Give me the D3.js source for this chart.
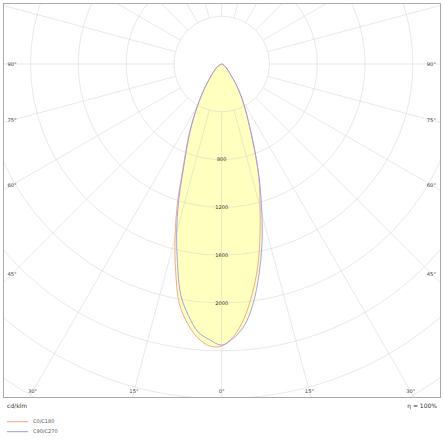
<!DOCTYPE html>
<html>
<head>
<meta charset="utf-8">
<script src="https://cdn.jsdelivr.net/npm/d3@7"></script>
<style>
  body { margin: 0; background: #fff; }
  svg { display: block; }
  text { font-family: "DejaVu Sans", Verdana, sans-serif; }
</style>
</head>
<body>
<div id="chart"></div>
<script>
// gamma angles (deg from nadir) and intensities in cd/klm
const gammas = [0, 2.5, 5, 7.5, 10, 12.5, 15, 17.5, 20, 25, 30, 35, 40, 45, 50, 60, 70, 80, 90];
const c180 = [2360, 2362, 2300, 2190, 2040, 1780, 1510, 1240, 963, 642, 410, 254, 155, 105, 75, 35, 12, 4, 0];
const c0   = [2360, 2282, 2140, 1945, 1730, 1480, 1240, 1047, 840, 525, 345, 214, 115, 75, 50, 25, 10, 3, 0];
const c270 = [2352, 2310, 2252, 2125, 1967, 1710, 1457, 1200, 940, 630, 405, 252, 155, 105, 75, 35, 12, 4, 0];
const c90  = [2352, 2295, 2195, 2020, 1795, 1555, 1300, 1065, 850, 530, 348, 215, 115, 75, 50, 25, 10, 3, 0];

const ringValues = [400, 800, 1200, 1600, 2000, 2400, 2800, 3200, 3600];
const ringLabels = [800, 1200, 1600, 2000];
const angleTicks = [0, 15, 30, 45, 60, 75, 90];
const legendNames = ["C0/C180", "C90/C270"];
const legendColors = ["#f3a08c", "#9898ec"];

const width = 444, height = 440;
const cx = 221.7, cy = 64;
const rad = d => d * Math.PI / 180;
const r = d3.scaleLinear().domain([0, 2000]).range([0, 239]);

const svg = d3.select("#chart").append("svg")
    .attr("width", width).attr("height", height);

svg.append("defs").append("clipPath").attr("id", "clip")
  .append("rect").attr("x", 3.5).attr("y", 3.5).attr("width", 437).attr("height", 394);

const plot = svg.append("g").attr("clip-path", "url(#clip)");
const g = plot.append("g").attr("transform", `translate(${cx},${cy})`);

// closed outline: left half from 90 down to 0, then right half back up
function outline(left, right) {
  let pts = [];
  for (let i = gammas.length - 1; i >= 0; i--) pts.push([Math.PI + rad(gammas[i]), r(left[i])]);
  for (let i = 1; i < gammas.length - 1; i++) pts.push([Math.PI - rad(gammas[i]), r(right[i])]);
  return pts;
}
const line = d3.lineRadial().curve(d3.curveCatmullRomClosed.alpha(0.5));
const shapes = [outline(c180, c0), outline(c270, c90)];

g.selectAll("path.fill").data(shapes).join("path")
    .attr("class", "fill")
    .attr("d", line)
    .attr("fill", "#ffffc0")
    .attr("stroke", "none");

// grid
g.selectAll("circle").data(ringValues).join("circle")
    .attr("r", d => r(d))
    .attr("fill", "none")
    .attr("stroke", "#c8c8c8")
    .attr("stroke-opacity", 0.5)
    .attr("stroke-width", 0.8);

g.selectAll("line.ray").data(d3.range(0, 360, 15)).join("line")
    .attr("class", "ray")
    .attr("x1", d => r(400) * Math.sin(rad(d)))
    .attr("y1", d => r(400) * Math.cos(rad(d)))
    .attr("x2", d => r(4000) * Math.sin(rad(d)))
    .attr("y2", d => r(4000) * Math.cos(rad(d)))
    .attr("stroke", "#c8c8c8")
    .attr("stroke-opacity", 0.5)
    .attr("stroke-width", 0.8);

g.selectAll("path.curve").data(shapes).join("path")
    .attr("class", "curve")
    .attr("d", line)
    .attr("fill", "none")
    .attr("stroke", (d, i) => legendColors[i])
    .attr("stroke-width", 0.9);

g.selectAll("text.ring").data(ringLabels).join("text")
    .attr("class", "ring")
    .attr("x", 0)
    .attr("y", d => r(d))
    .attr("dy", "0.35em")
    .attr("text-anchor", "middle")
    .attr("font-size", 5)
    .attr("fill", "#333")
    .text(d => d);

// angle labels where the rays meet an inset box
let angleLabels = [];
angleTicks.forEach(t => {
  [-1, 1].forEach(side => {
    if (t === 0 && side === 1) return;
    let dx = side * Math.sin(rad(t)), dy = Math.cos(rad(t));
    let sx = dx === 0 ? Infinity : (side < 0 ? cx - 12 : 431.4 - cx) / Math.abs(dx);
    let sy = dy < 1e-9 ? Infinity : (391.5 - cy) / dy;
    let s = Math.min(sx, sy);
    angleLabels.push({ t: t, x: cx + s * dx, y: cy + s * dy });
  });
});

svg.selectAll("text.angle").data(angleLabels).join("text")
    .attr("class", "angle")
    .attr("x", d => d.x)
    .attr("y", d => d.y)
    .attr("dy", "0.35em")
    .attr("text-anchor", "middle")
    .attr("font-size", 5.2)
    .attr("fill", "#444")
    .text(d => d.t + "°");

// frame
svg.append("rect")
    .attr("x", 3.5).attr("y", 3.5).attr("width", 437).attr("height", 394)
    .attr("fill", "none").attr("stroke", "#aaa").attr("stroke-width", 1);

svg.append("text").attr("x", 7).attr("y", 408)
    .attr("font-size", 6).attr("fill", "#333").text("cd/klm");
svg.append("text").attr("x", 437).attr("y", 408).attr("text-anchor", "end")
    .attr("font-size", 6).attr("fill", "#333").text("η = 100%");

const legend = svg.selectAll("g.legend").data(legendNames).join("g")
    .attr("class", "legend")
    .attr("transform", (d, i) => `translate(7,${421.7 + i * 10})`);
legend.append("line")
    .attr("x1", 0).attr("x2", 21)
    .attr("stroke", (d, i) => legendColors[i]).attr("stroke-width", 1);
legend.append("text")
    .attr("x", 26).attr("dy", "0.35em")
    .attr("font-size", 5)
    .attr("fill", "#555")
    .text(d => d);
</script>
</body>
</html>
